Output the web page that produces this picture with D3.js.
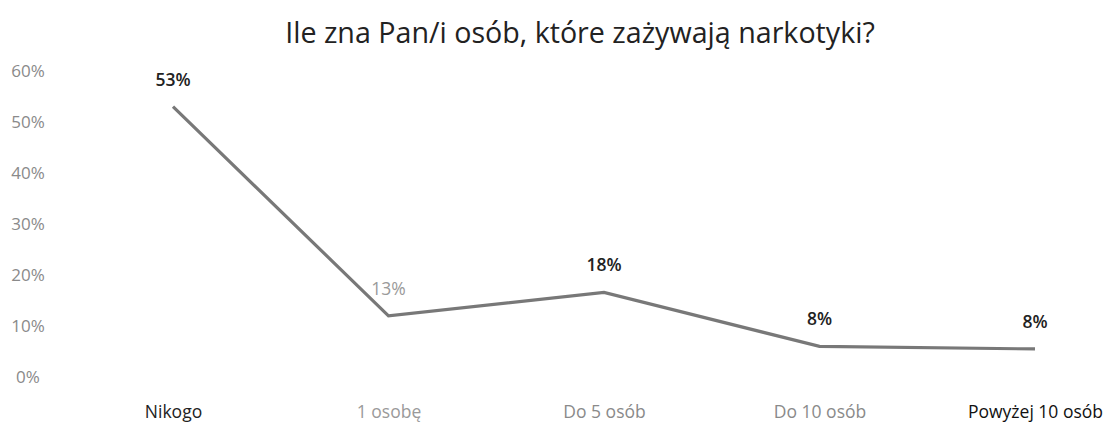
<!DOCTYPE html>
<html><head><meta charset="utf-8">
<script src="https://cdn.jsdelivr.net/npm/d3@7"></script>
<style>body{margin:0;background:#fff}</style>
</head><body>
<svg id="c" width="1110" height="427"></svg>
<script>
const title = "Ile zna Pan/i osób, które zażywają narkotyki?";
const categories = ["Nikogo", "1 osobę", "Do 5 osób", "Do 10 osób", "Powyżej 10 osób"];
const values = [53, 12, 16.6, 6, 5.5];
const valueLabels = ["53%", "13%", "18%", "8%", "8%"];
const yTicks = [0, 10, 20, 30, 40, 50, 60];
const catColors = ["#222", "#9a9a9a", "#8a8a8a", "#8a8a8a", "#111"];
const labelColors = ["#222", "#9a9a9a", "#222", "#222", "#222"];

const svg = d3.select("#c");
const x = d3.scalePoint().domain(categories).range([173, 1035]);
const y = d3.scaleLinear().domain([0, 60]).range([377, 71]);
const font = "'Open Sans', sans-serif";

const t = svg.append("text").attr("x", 580).attr("y", 43).attr("text-anchor", "middle")
  .attr("font-family", font).attr("font-size", 27).attr("fill", "#222").text(title);
const tw = t.node().getComputedTextLength();
t.attr("font-size", 27 * 590 / tw);

const yAxis = d3.axisLeft(y).tickValues(yTicks).tickFormat(d => d + "%").tickSize(0);
const ga = svg.append("g").attr("transform", "translate(28,0)").call(yAxis);
ga.select(".domain").remove();
ga.selectAll("text").attr("text-anchor", "middle").attr("x", 0).attr("dy", "0.35em")
  .attr("font-family", font).attr("font-size", 17).attr("fill", "#8a8a8a");

const xAxis = d3.axisBottom(x).tickSize(0);
const gx = svg.append("g").attr("transform", "translate(0,418)").call(xAxis);
gx.select(".domain").remove();
gx.selectAll("text").attr("font-family", font).attr("font-size", 17.5)
  .attr("fill", (d, i) => catColors[i]).attr("y", 0).attr("dy", 0);

svg.append("path").datum(values)
  .attr("d", d3.line().x((d, i) => x(categories[i])).y(d => y(d)))
  .attr("fill", "none").attr("stroke", "#787878").attr("stroke-width", 3.2);

svg.selectAll(".lbl").data(values).enter().append("text")
  .attr("x", (d, i) => x(categories[i])).attr("y", d => y(d) - 21)
  .attr("text-anchor", "middle").attr("font-family", font).attr("font-size", 17.5)
  .attr("font-weight", (d, i) => i === 1 ? 400 : 600)
  .attr("fill", (d, i) => labelColors[i]).text((d, i) => valueLabels[i]);
</script>
</body></html>
